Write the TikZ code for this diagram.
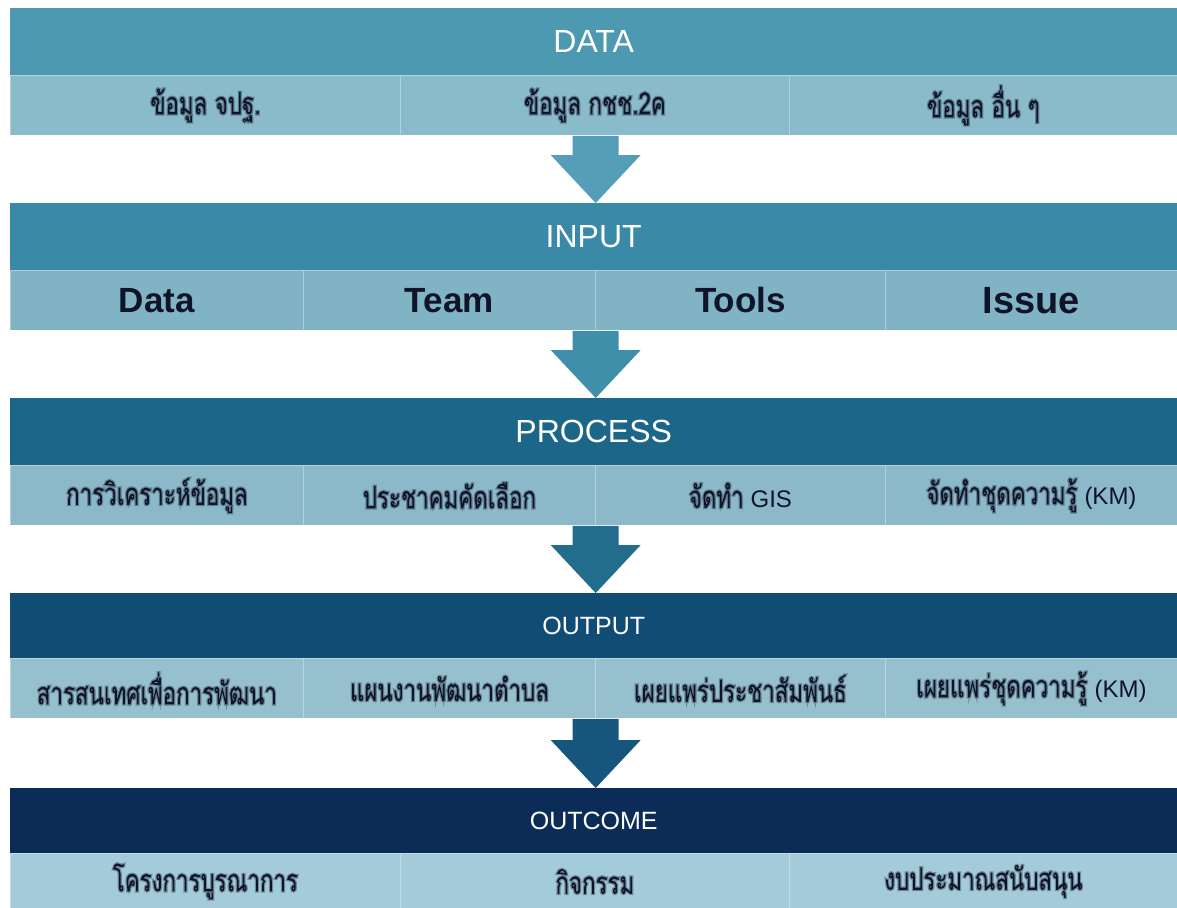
\documentclass[tikz,border=0pt]{standalone}
\usepackage{fontspec}
\setmainfont{Liberation Sans}
\newfontfamily\thaifont[Script=Thai,FakeStretch=0.72,FakeBold=8]{Loma}
\usetikzlibrary{calc}
\definecolor{hA}{RGB}{78,153,178}
\definecolor{sA}{RGB}{138,187,202}
\definecolor{arA}{RGB}{84,158,183}
\definecolor{hB}{RGB}{58,137,166}
\definecolor{sB}{RGB}{128,180,197}
\definecolor{arB}{RGB}{64,143,170}
\definecolor{hC}{RGB}{28,103,137}
\definecolor{sC}{RGB}{140,185,201}
\definecolor{arC}{RGB}{34,108,140}
\definecolor{hD}{RGB}{16,76,116}
\definecolor{sD}{RGB}{150,192,206}
\definecolor{arD}{RGB}{22,86,124}
\definecolor{hE}{RGB}{12,44,88}
\definecolor{sE}{RGB}{163,203,218}
\definecolor{txt}{RGB}{16,20,40}
\newcommand\thtxt[1]{{\thaifont\fontsize{31}{31}\selectfont #1}}
\newcommand\lat[1]{\hspace{7pt}{\fontsize{24}{24}\selectfont #1}}
\newcommand\blockarrow[3]{%
  \coordinate (tip) at ($(#2.north)+(2,0)$);
  \fill[#3] ($(tip |- #1.south)+(-23,0)$) -- ($(tip)+(-23,48)$) -- ($(tip)+(-45,48)$)
    -- (tip) -- ($(tip)+(45,48)$) -- ($(tip)+(23,48)$) -- ($(tip |- #1.south)+(23,0)$) -- cycle;}
\begin{document}
\begin{tikzpicture}[x=1pt,y=1pt,
  hdr/.style={rectangle, minimum width=1167pt, minimum height=67pt, anchor=north west,
    inner sep=0pt, text=white},
  bigtitle/.style={font=\fontsize{32}{32}\selectfont},
  smalltitle/.style={font=\fontsize{25}{25}\selectfont},
  cell/.style={rectangle, minimum height=60pt, anchor=north west, inner sep=0pt,
    draw=white, draw opacity=0.35, line width=0.8pt, text=txt},
  latcell/.style={font=\bfseries\fontsize{35}{35}\selectfont}]
\useasboundingbox (0,0) rectangle (1177,-907);
\fill[white] (0,0) rectangle (1177,-907);

% DATA
\node[hdr, bigtitle, fill=hA] (data) at (10,-8) {DATA};
\node[cell, fill=sA, minimum width=390pt] (d1) at (10,-75) {\thtxt{ข้อมูล จปฐ.}};
\node[cell, fill=sA, minimum width=389pt] (d2) at (400,-75) {\thtxt{ข้อมูล กชช.2ค}};
\node[cell, fill=sA, minimum width=388pt] (d3) at (789,-75) {\thtxt{ข้อมูล อื่น ๆ}};

% INPUT
\node[hdr, bigtitle, fill=hB] (input) at (10,-203) {INPUT};
\node[cell, latcell, fill=sB, minimum width=293pt] (i1) at (10,-270) {Data};
\node[cell, latcell, fill=sB, minimum width=292pt] (i2) at (303,-270) {Team};
\node[cell, latcell, fill=sB, minimum width=290pt] (i3) at (595,-270) {Tools};
\node[cell, latcell, fill=sB, minimum width=292pt, font=\bfseries\fontsize{38}{38}\selectfont] (i4) at (885,-270) {Issue};

% PROCESS
\node[hdr, bigtitle, fill=hC] (process) at (10,-398) {PROCESS};
\node[cell, fill=sC, minimum width=293pt] (p1) at (10,-465) {\thtxt{การวิเคราะห์ข้อมูล}};
\node[cell, fill=sC, minimum width=292pt] (p2) at (303,-465) {\thtxt{ประชาคมคัดเลือก}};
\node[cell, fill=sC, minimum width=290pt] (p3) at (595,-465) {\thtxt{จัดทำ}\lat{GIS}};
\node[cell, fill=sC, minimum width=292pt] (p4) at (885,-465) {\thtxt{จัดทำชุดความรู้}\lat{(KM)}};

% OUTPUT
\node[hdr, smalltitle, fill=hD, minimum height=65pt] (output) at (10,-593) {OUTPUT};
\node[cell, fill=sD, minimum width=293pt] (o1) at (10,-658) {\thtxt{สารสนเทศเพื่อการพัฒนา}};
\node[cell, fill=sD, minimum width=292pt] (o2) at (303,-658) {\thtxt{แผนงานพัฒนาตำบล}};
\node[cell, fill=sD, minimum width=290pt] (o3) at (595,-658) {\thtxt{เผยแพร่ประชาสัมพันธ์}};
\node[cell, fill=sD, minimum width=292pt] (o4) at (885,-658) {\thtxt{เผยแพร่ชุดความรู้}\lat{(KM)}};

% OUTCOME
\node[hdr, smalltitle, fill=hE, minimum height=65pt] (outcome) at (10,-788) {OUTCOME};
\node[cell, fill=sE, minimum width=390pt, minimum height=56pt] (c1) at (10,-853) {\thtxt{โครงการบูรณาการ}};
\node[cell, fill=sE, minimum width=389pt, minimum height=56pt] (c2) at (400,-853) {\thtxt{กิจกรรม}};
\node[cell, fill=sE, minimum width=388pt, minimum height=56pt] (c3) at (789,-853) {\thtxt{งบประมาณสนับสนุน}};

% arrows
\blockarrow{d2}{input}{arA}
\blockarrow{i2}{process}{arB}
\blockarrow{p2}{output}{arC}
\blockarrow{o2}{outcome}{arD}
\end{tikzpicture}
\end{document}
